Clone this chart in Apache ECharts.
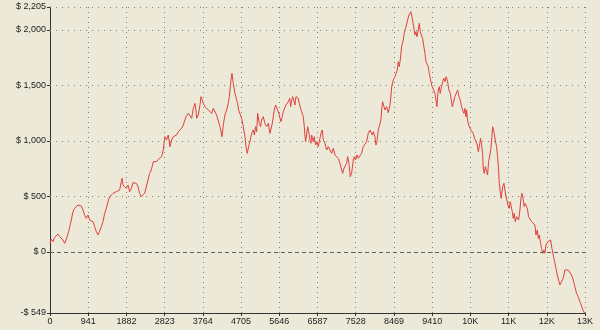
<!DOCTYPE html>
<html>
<head>
<meta charset="utf-8">
<script src="https://cdn.jsdelivr.net/npm/echarts@6/dist/echarts.min.js"></script>
<style>
html,body{margin:0;padding:0;background:#ece9d8;}
#chart{width:600px;height:330px;}
</style>
</head>
<body>
<div id="chart"></div>
<script>
// Trade number (x) and cumulative profit in $ (y)
const steps = [0,33,74,115,156,197,238,279,320,361,402,459,484,525,566,607,648,689,730,771,812,853,894,936,977,1018,1059,1100,1141,1182,1223,1264,1305,1346,1387,1428,1469,1510,1551,1592,1633,1674,1715,1756,1773,1797,1838,1879,1920,1961,2002,2043,2084,2125,2166,2207,2248,2290,2331,2372,2413,2454,2495,
2544,2585,2626,2667,2708,2749,2790,2807,2831,2872,2913,2954,2971,2995,3036,3077,3118,3159,3200,3241,3282,3323,3348,3381,3406,3447,3488,3529,3570,3595,3611,3652,3693,3718,3734,3775,3816,3857,3898,3939,3980,4021,4062,4103,4144,4185,4210,4235,4267,4308,4349,4390,4415,4432,4456,4481,4497,4513,4555,4596,4620,4645,4678,4719,4760,4801,4826,4858,4891,
4932,4965,5006,5031,5064,5088,5113,5129,5154,5187,5211,5252,5293,5335,5376,5416,5441,5474,5523,5556,5589,5621,5646,5687,5720,5744,5786,5810,5843,5868,5901,5926,5950,5975,6007,6032,6057,6081,6114,6138,6163,6196,6237,6262,6278,6294,6319,6344,6377,6401,6426,6442,6483,6508,6541,6574,6606,6648,6672,6705,6729,6771,6812,6853,6894,6935,6976,7017,7058,7099,7140,7181,7206,7239,7263,7304,7329,7362,7394,7427,7468,7493,7526,7558,7591,7632,7673,7714,7755,7796,7837,7878,7903,7936,7960,8002,8026,8051,8083,8116,8149,8166,8190,8215,8248,8289,8330,
8371,8395,8412,8453,8494,8518,8551,8576,8600,8625,8658,8699,8723,8756,8781,8806,8839,8863,8888,8904,8929,8954,8986,9011,9036,9068,9093,9118,9151,9175,9200,9233,9257,9282,9315,9339,9364,9397,9422,9446,9479,9504,9528,9545,9561,9586,9610,9643,9668,9700,9725,9758,9791,9823,9856,9881,9906,9930,9971,10004,10037,10070,10102,10135,10160,
10193,10217,10242,10258,10283,10308,10340,10365,10390,10422,10455,10488,10521,10545,10570,10603,10627,10652,10668,10693,10718,10751,10775,10800,10833,10857,10882,10899,10915,10939,10964,10997,11022,11046,11063,11087,11112,11145,11178,11202,11227,11252,11276,11309,11334,11358,11383,11407,11432,11457,11490,11514,11539,11572,11596,11621,11654,11678,11703,11736,11760,11785,11818,11859,11900,
11941,11966,11999,12024,12048,12081,12106,12130,12163,12187,12212,12228,12261,12294,12327,12359,12392,12425,12458,12491,12524,12556,12597,12638,12679,12720,12761,12802,12843,12884,12925,12966,13007,13032,13066,13091,13124,13160];

const profit = [78,114,93,132,144,162,138,153,108,78,114,183,198,288,363,393,408,423,408,414,378,333,303,333,288,303,273,228,183,153,168,228,273,348,393,453,498,513,528,513,543,528,558,633,663,603,618,573,603,543,573,624,612,618,588,528,498,483,528,513,648,708,738,
813,828,813,834,828,858,918,978,1038,1008,1053,948,933,1008,1038,1023,1053,1083,1083,1113,1143,1158,1218,1203,1248,1233,1203,1293,1338,1278,1203,1233,1323,1398,1383,1338,1308,1323,1278,1293,1248,1293,1278,1233,1218,1128,1083,1038,1143,1233,1278,1338,1398,1458,1548,1608,1593,1518,1428,1368,1338,1278,1278,1203,1128,1038,948,888,948,
1008,1068,1098,1053,1128,1083,1248,1263,1158,1128,1188,1218,1158,1128,1158,1068,1053,1158,1278,1323,1293,1263,1248,1173,1218,1263,1278,1323,1308,1353,1383,1308,1368,1398,1413,1323,1398,1413,1383,1338,1323,1263,1218,1128,1053,993,1053,1128,1068,1008,978,1053,993,1038,963,993,948,1023,1068,1098,1008,978,918,948,933,888,933,873,888,843,798,738,708,753,768,798,858,798,678,708,828,858,828,873,843,858,888,948,963,993,1068,1098,1113,1053,1083,1038,963,993,1098,1113,1188,1278,1353,1338,1278,1308,1254,
1323,1398,1488,1548,1578,1563,1638,1713,1668,1728,1848,1908,1968,2013,1998,2088,2133,2148,2163,2133,2088,2028,1953,1983,1938,1998,2058,1983,1968,1923,1863,1788,1713,1728,1668,1608,1563,1503,1488,1458,1428,1368,1308,1398,1458,1488,1428,1488,1533,1563,1533,1578,1533,1458,1428,1368,1308,1338,1398,1428,1458,1398,1368,1308,1278,
1248,1293,1218,1278,1188,1143,1128,1098,1113,1068,1023,993,963,903,948,1023,963,888,753,708,768,783,693,813,873,933,1038,1128,1113,1068,1008,948,858,738,618,543,483,588,618,603,498,468,423,393,453,408,363,303,348,273,318,303,288,378,483,528,468,408,438,408,378,318,303,273,258,
243,153,198,123,153,78,33,-12,18,-12,63,48,93,78,108,33,-27,-87,-147,-207,-252,-297,-282,-237,-162,-147,-162,-177,-207,-252,-312,-372,-402,-432,-462,-477,-522,-549];

const yMin = -549, yMax = 2205;
const yTickValues = [-549, 0, 500, 1000, 1500, 2000, 2205];
const yGridValues = [500, 1000, 1500, 2000, 2205];
const xInterval = 941, xMax = 13174;

const lineData = steps.map((s, i) => [s, profit[i]]);

function fmtMoney(v) {
  const a = Math.abs(v).toLocaleString('en-US');
  return (v < 0 ? '-$ ' : '$ ') + a;
}
function fmtX(v) {
  if (v >= 10000) return Math.round(v / 1000) + 'K';
  return String(v);
}

const chart = echarts.init(document.getElementById('chart'), null, {renderer: 'canvas'});
const labelFont = {color: '#222', fontSize: 9, fontFamily: 'Liberation Sans'};

chart.setOption({
  backgroundColor: '#ece9d8',
  animation: false,
  grid: {left: 50, right: 15, top: 7, bottom: 17, containLabel: false},
  xAxis: {
    type: 'value', min: 0, max: xMax, interval: xInterval,
    axisLine: {show: true, onZero: false, lineStyle: {color: '#333', width: 1}},
    axisTick: {show: true, length: 3, lineStyle: {color: '#333'}},
    axisLabel: Object.assign({margin: 4, formatter: fmtX, showMinLabel: true, showMaxLabel: true}, labelFont),
    splitLine: {show: true, lineStyle: {color: '#808080', type: [1, 4], width: 1}}
  },
  yAxis: {
    type: 'value', min: yMin, max: yMax,
    axisLine: {show: true, onZero: false, lineStyle: {color: '#333', width: 1}},
    axisTick: {show: true, length: 3, customValues: yTickValues, lineStyle: {color: '#333'}},
    axisLabel: Object.assign({margin: 4, formatter: fmtMoney, customValues: yTickValues}, labelFont),
    splitLine: {show: false}
  },
  series: [
    {
      type: 'line', data: [], z: 1, silent: true,
      markLine: {
        silent: true, symbol: 'none', label: {show: false}, animation: false,
        data: yGridValues.map(v => ({yAxis: v, lineStyle: {color: '#808080', type: [1, 5], width: 1}}))
          .concat([{yAxis: 0, lineStyle: {color: '#606060', type: [4, 3], width: 1}}])
      }
    },
    {
      type: 'line', data: lineData, z: 3, showSymbol: false, symbol: 'none',
      lineStyle: {color: '#e0403c', width: 1}, itemStyle: {color: '#e0403c'}
    }
  ]
});
</script>
</body>
</html>
